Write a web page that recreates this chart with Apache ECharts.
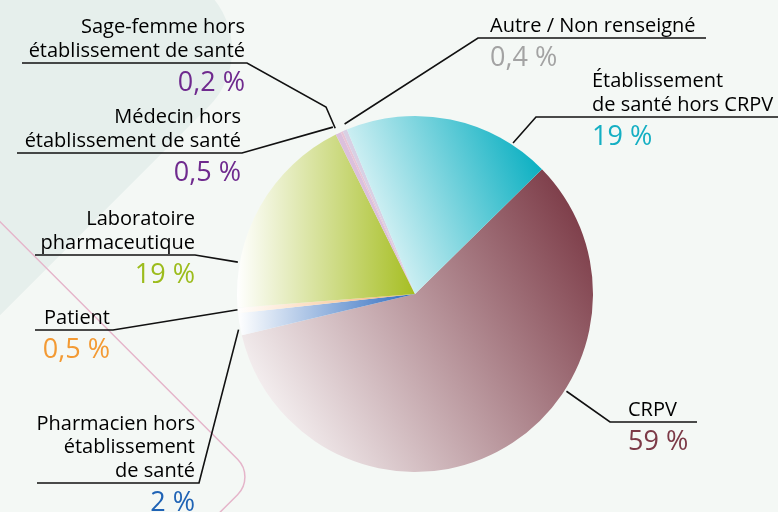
<!DOCTYPE html>
<html>
<head>
<meta charset="utf-8" />
<title>Origine des déclarations</title>
<script src="https://cdn.jsdelivr.net/npm/echarts@6/dist/echarts.min.js"></script>
<style>
  html, body { margin: 0; padding: 0; background: #f4f8f5; }
</style>
</head>
<body>
<div id="main" style="width: 778px; height: 512px;"></div>
<script type="text/javascript">
  // données (sens horaire à partir du CRPV)
  var categories = [
    'CRPV',
    'Pharmacien hors\nétablissement\nde santé',
    'Patient',
    'Laboratoire\npharmaceutique',
    'Médecin hors\nétablissement de santé',
    'Sage-femme hors\nétablissement de santé',
    'Autre / Non renseigné',
    'Établissement\nde santé hors CRPV'
  ];
  var percentages = [59, 2, 0.5, 19, 0.5, 0.2, 0.4, 19];

  // styles
  var sliceColors = ['#7a3844', '#2d6bbf', '#f6ae6a', '#a6be22', '#dcc0dc', '#e8c4d6', '#d8d0e4', '#0cb0c2'];
  var valueColors = ['#7c3a47', '#1f63b5', '#f39a33', '#9cbc1c', '#6f2a8e', '#6f2a8e', '#a3a3a3', '#14afc3'];
  // null = couleur pleine
  var gradientDirs = [
    [0, 0.85, 1, 0.15],
    [0, 0, 1, 0],
    [0, 0, 1, 0],
    [0, 0, 1, 0],
    null,
    null,
    null,
    [0, 0.75, 1, 0.3]
  ];

  var CX = 415, CY = 294, R = 178;
  var NAME_LH = 23.5;

  // placement des étiquettes : angle (horaire depuis midi) du point d'accroche,
  // coudes de la ligne, fin du soulignement, bord du texte, hauteur du trait
  var labelPlaces = [
    { bearing: 122.7, dist: 180, knees: [[610, 422]], end: 697, align: 'left', textX: 628, ulY: 422 },
    { bearing: 258.6, dist: 180, knees: [[199, 483]], end: 37, align: 'right', textX: 195, ulY: 483 },
    { bearing: 264.9, dist: 178, knees: [[113, 330]], end: 35, align: 'right', textX: 110, ulY: 330 },
    { bearing: 280.2, dist: 180, knees: [[195, 255]], end: 35, align: 'right', textX: 195, ulY: 255 },
    { bearing: 333.8, dist: 186, knees: [[242, 153]], end: 17, align: 'right', textX: 241, ulY: 153 },
    { bearing: 334.3, dist: 184, knees: [[326, 107], [247, 63]], end: 22, align: 'right', textX: 245, ulY: 63 },
    { bearing: 337.5, dist: 184, knees: [[478, 38]], end: 706, align: 'left', textX: 490, ulY: 38 },
    { bearing: 33, dist: 180, knees: [[536, 117]], end: 778, align: 'left', textX: 592, ulY: 117 }
  ];

  function frPercent(v) {
    return String(v).replace('.', ',') + ' %';
  }

  var myChart = echarts.init(document.getElementById('main'));

  var seriesData = categories.map(function (name, i) {
    var d = gradientDirs[i];
    var fill = d ? new echarts.graphic.LinearGradient(d[0], d[1], d[2], d[3], [
      { offset: 0, color: '#ffffff' },
      { offset: 1, color: sliceColors[i] }
    ]) : sliceColors[i];
    return {
      name: name,
      value: percentages[i],
      itemStyle: { color: fill },
      label: {
        rich: {
          v: { fontSize: 27, lineHeight: 41, color: valueColors[i], fontFamily: 'Open Sans' }
        }
      }
    };
  });

  var option = {
    backgroundColor: '#f4f8f5',
    animation: false,
    graphic: [
      {
        type: 'rect',
        x: -159, y: 50,
        rotation: Math.PI / 4,
        shape: { x: -300, y: -300, width: 600, height: 600, r: 80 },
        style: { fill: '#e6efec' },
        z: 0
      },
      {
        type: 'rect',
        x: -169, y: 477,
        rotation: Math.PI / 4,
        shape: { x: -300, y: -300, width: 600, height: 600, r: 25 },
        style: { fill: 'none', stroke: '#e5b5ca', lineWidth: 1.5 },
        z: 1
      }
    ],
    series: [
      {
        type: 'pie',
        center: [CX, CY],
        radius: R,
        startAngle: 44.5,
        clockwise: true,
        avoidLabelOverlap: false,
        z: 3,
        data: seriesData,
        label: {
          show: true,
          position: 'outside',
          alignTo: 'none',
          fontFamily: 'Open Sans',
          formatter: function (p) {
            var lines = p.name.split('\n').map(function (t) { return '{n|' + t + '}'; });
            return lines.join('\n') + '\n{v|' + frPercent(p.value) + '}';
          },
          rich: {
            n: { fontSize: 20, lineHeight: NAME_LH, color: '#000000', fontFamily: 'Open Sans' }
          }
        },
        labelLine: {
          show: true,
          lineStyle: { color: '#111111', width: 1.6 }
        },
        labelLayout: function (params) {
          var pl = labelPlaces[params.dataIndex];
          var a = pl.bearing * Math.PI / 180;
          var pts = [[CX + pl.dist * Math.sin(a), CY - pl.dist * Math.cos(a)]];
          pl.knees.forEach(function (k) { pts.push(k); });
          pts.push([pl.end, pl.ulY]);
          var nLines = categories[params.dataIndex].split('\n').length;
          return {
            x: pl.textX,
            y: pl.ulY - nLines * NAME_LH,
            align: pl.align,
            verticalAlign: 'top',
            labelLinePoints: pts
          };
        }
      }
    ]
  };

  myChart.setOption(option);
</script>
</body>
</html>
